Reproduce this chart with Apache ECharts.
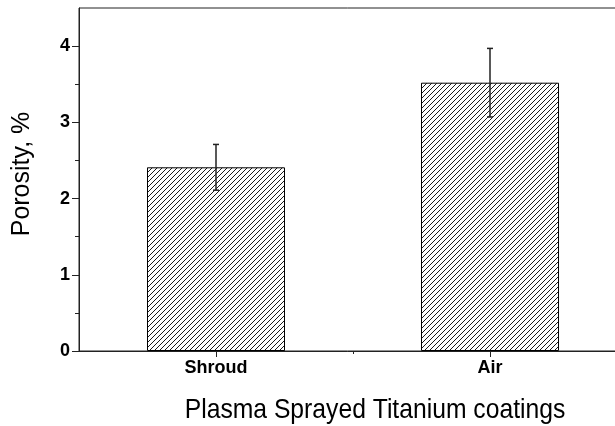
<!DOCTYPE html>
<html>
<head>
<meta charset="utf-8">
<script src="https://cdn.jsdelivr.net/npm/echarts@6/dist/echarts.min.js"></script>
<style>
  html, body { margin: 0; padding: 0; background: #fff; }
  #chart { width: 615px; height: 426px; }
</style>
</head>
<body>
<div id="chart"></div>
<script>
// data
const categories = ['Shroud', 'Air']
const positions = [1, 2]
const porosity = [2.41, 3.52]
const errors = [0.30, 0.45]
const yTickValues = [0, 1, 2, 3, 4]
const yMinorValues = [0.5, 1.5, 2.5, 3.5]
const xMinorValues = [1.5]

const font = 'Liberation Sans, Arial, sans-serif'
const ink = '#222'

// hatch pattern ////
const makeHatch = () => {
  const c = document.createElement('canvas')
  c.width = 5
  c.height = 5
  const ctx = c.getContext('2d')
  ctx.fillStyle = '#fff'
  ctx.fillRect(0, 0, 5, 5)
  ctx.strokeStyle = '#000'
  ctx.lineWidth = 0.9
  ctx.beginPath()
  ctx.moveTo(-1, 6); ctx.lineTo(6, -1)
  ctx.moveTo(-1, 1); ctx.lineTo(1, -1)
  ctx.moveTo(4, 6); ctx.lineTo(6, 4)
  ctx.stroke()
  return c
}

const chart = echarts.init(document.getElementById('chart'), null, { renderer: 'canvas' })

const barData = positions.map((p, i) => [p, porosity[i]])
const errData = positions.map((p, i) => [p, porosity[i] - errors[i], porosity[i] + errors[i]])

const labelStyle = { fontFamily: font, fontWeight: 'bold', fontSize: 18, color: '#000' }

const option = {
  animation: false,
  grid: {
    left: 79, top: 8, width: 548, height: 343,
    outerBoundsMode: 'none',
    containLabel: false,
    show: true, borderColor: ink, borderWidth: 1, backgroundColor: 'transparent'
  },
  xAxis: [
    {
      type: 'value',
      min: 0.5,
      max: 2.5,
      splitLine: { show: false },
      axisLine: { show: true, onZero: false, lineStyle: { color: ink, width: 1 } },
      axisTick: { show: true, customValues: positions, length: 6, lineStyle: { color: ink } },
      axisLabel: Object.assign({
        customValues: positions,
        formatter: v => categories[positions.indexOf(v)] || '',
        margin: 8
      }, labelStyle)
    },
    {
      type: 'value',
      min: 0.5,
      max: 2.5,
      position: 'bottom',
      splitLine: { show: false },
      axisLine: { show: false },
      axisTick: { show: true, customValues: xMinorValues, length: 3, lineStyle: { color: ink } },
      axisLabel: { show: false }
    }
  ],
  yAxis: [
    {
      type: 'value',
      min: 0,
      max: 4.5,
      splitLine: { show: false },
      axisLine: { show: true, lineStyle: { color: ink, width: 1 } },
      axisTick: { show: true, customValues: yTickValues, length: 7, lineStyle: { color: ink } },
      axisLabel: Object.assign({ customValues: yTickValues, margin: 9 }, labelStyle)
    },
    {
      type: 'value',
      min: 0,
      max: 4.5,
      position: 'left',
      splitLine: { show: false },
      axisLine: { show: false },
      axisTick: { show: true, customValues: yMinorValues, length: 4, lineStyle: { color: ink } },
      axisLabel: { show: false }
    }
  ],
  graphic: [
    {
      type: 'text',
      x: 375,
      y: 410,
      scaleY: 1.13,
      style: {
        text: 'Plasma Sprayed Titanium coatings',
        x: 0, y: 0,
        align: 'center',
        verticalAlign: 'middle',
        font: '24.7px ' + font,
        fill: '#000'
      }
    },
    {
      type: 'text',
      x: 22,
      y: 174,
      rotation: Math.PI / 2,
      style: {
        text: 'Porosity, %',
        x: 0, y: 0,
        align: 'center',
        verticalAlign: 'middle',
        font: '25px ' + font,
        fill: '#000'
      }
    }
  ],
  series: [
    {
      type: 'bar',
      xAxisIndex: 0,
      data: barData,
      barWidth: 138,
      itemStyle: {
        color: { image: makeHatch(), repeat: 'repeat' },
        borderColor: '#000',
        borderWidth: 1
      }
    },
    {
      type: 'custom',
      xAxisIndex: 0,
      data: errData,
      z: 10,
      renderItem: (params, api) => {
        const x = api.value(0)
        const lo = api.coord([x, api.value(1)])
        const hi = api.coord([x, api.value(2)])
        const cap = 3
        const style = { stroke: ink, lineWidth: 1.5 }
        return {
          type: 'group',
          children: [
            { type: 'line', shape: { x1: lo[0], y1: lo[1], x2: hi[0], y2: hi[1] }, style },
            { type: 'line', shape: { x1: hi[0] - cap, y1: hi[1], x2: hi[0] + cap, y2: hi[1] }, style },
            { type: 'line', shape: { x1: lo[0] - cap, y1: lo[1], x2: lo[0] + cap, y2: lo[1] }, style }
          ]
        }
      }
    }
  ]
}

chart.setOption(option)
</script>
</body>
</html>
